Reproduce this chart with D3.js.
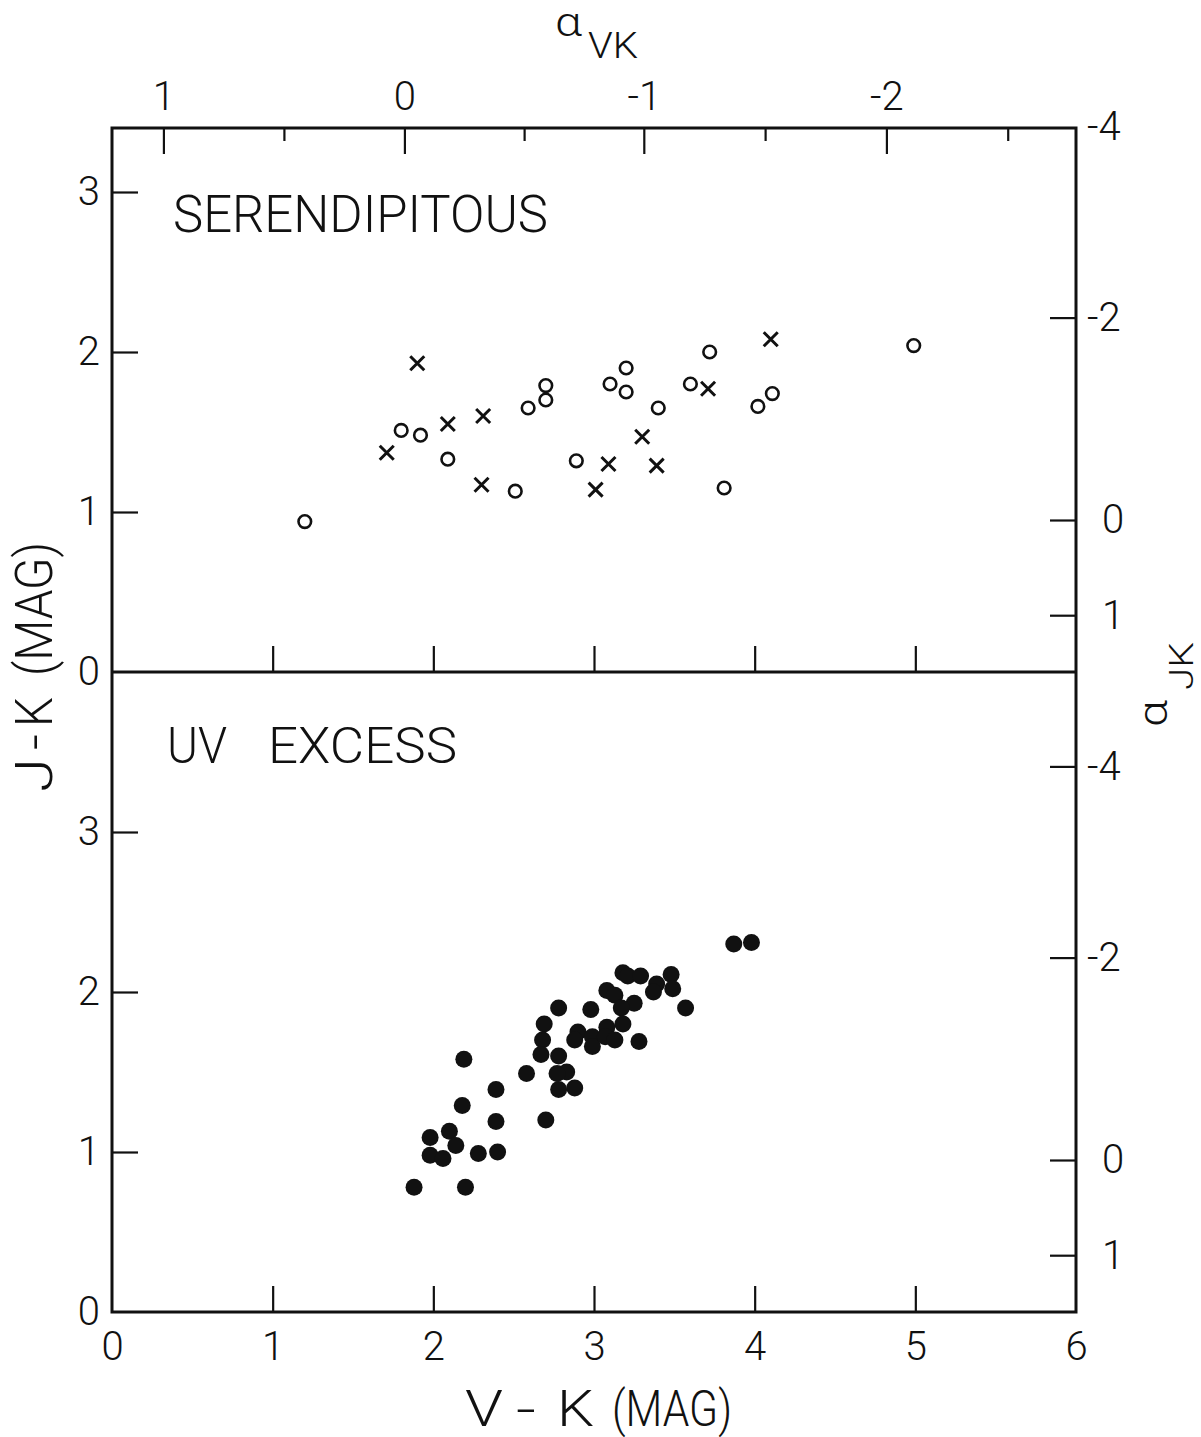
<!DOCTYPE html>
<html><head><meta charset="utf-8">
<script src="https://cdn.jsdelivr.net/npm/d3@7"></script>
<style>
html,body{margin:0;padding:0;background:#fff;}
svg{display:block;background:#fff;}
text{font-family:Roboto,"Open Sans",sans-serif;font-weight:300;fill:#111;}
</style></head><body>
<svg id="chart" width="1201" height="1437"></svg>
<script>
// ---- axis ticks / labels ----
const vkTicks = [1, 2, 3, 4, 5];
const vkLabels = [0, 1, 2, 3, 4, 5, 6];
const jkTicks = [1, 2, 3];
const jkLabels = [0, 1, 2, 3];
const alphaVKMajor = [1, 0, -1, -2];
const alphaVKMajorAtVK = [0.32, 1.82, 3.31, 4.82];   // V-K value under each alpha_VK tick
const alphaVKMinor = [0.5, -0.5, -1.5, -2.5];
const alphaJKTicks = [1, 0, -2, -4];
const alphaJKAtJK = [0.355, 0.95, 2.215, 3.41];      // J-K value beside each alpha_JK tick

// ---- data: [V-K, J-K] ----
const serendipCircles = [
  [1.20,0.94],[1.80,1.51],[1.92,1.48],[2.09,1.33],[2.51,1.13],[2.59,1.65],
  [2.70,1.79],[2.70,1.70],[2.89,1.32],[3.10,1.80],[3.20,1.90],[3.20,1.75],
  [3.40,1.65],[3.72,2.00],[3.60,1.80],[4.02,1.66],[4.11,1.74],[3.81,1.15],[4.99,2.04]
];
const serendipCrosses = [
  [1.90,1.93],[1.71,1.37],[2.09,1.55],[2.31,1.60],[2.30,1.17],[3.01,1.14],
  [3.09,1.30],[3.30,1.47],[3.39,1.29],[4.10,2.08],[3.71,1.77]
];
const uvExcess = [
  [3.87,2.30],[3.98,2.31],[3.18,2.12],[3.21,2.10],[3.29,2.10],[3.48,2.11],
  [3.39,2.05],[3.37,2.00],[3.49,2.02],[3.08,2.01],[3.13,1.98],[3.25,1.93],
  [3.17,1.90],[3.57,1.90],[2.78,1.90],[2.98,1.89],[3.18,1.80],[3.08,1.78],
  [2.69,1.80],[2.90,1.75],[2.88,1.70],[2.99,1.72],[2.99,1.66],[3.07,1.72],
  [3.13,1.70],[3.28,1.69],[2.68,1.70],[2.67,1.61],[2.78,1.60],[2.83,1.50],
  [2.77,1.49],[2.58,1.49],[2.78,1.39],[2.88,1.40],[2.19,1.58],[2.39,1.39],
  [2.18,1.29],[2.39,1.19],[2.70,1.20],[2.10,1.13],[1.98,1.09],[2.14,1.04],
  [1.98,0.98],[2.06,0.96],[2.28,0.99],[2.40,1.00],[1.88,0.78],[2.20,0.78]
];

// ---- layout ----
const L = 112, R = 1076, T = 128, M = 672, B = 1312;
const svg = d3.select("#chart");
const x = d3.scaleLinear().domain([0, 6]).range([L, R]);
const yTop = d3.scaleLinear().domain([0, 3.4]).range([M, T]);
const yBot = d3.scaleLinear().domain([0, 4]).range([B, M]);
const aVK = d3.scaleLinear().domain(alphaVKMajor).range(alphaVKMajorAtVK.map(x));
const aJKTop = d3.scaleLinear().domain(alphaJKTicks).range(alphaJKAtJK.map(yTop));
const aJKBot = d3.scaleLinear().domain(alphaJKTicks).range(alphaJKAtJK.map(yBot));

const TICK = 26, MINOR = 13, LBL = 40;

function style(g) {
  g.select(".domain").remove();
  g.selectAll(".tick line").attr("stroke", "#111").attr("stroke-width", 2.2);
  g.attr("font-family", null).attr("font-size", null);
  g.selectAll("text").style("font-size", LBL + "px").attr("fill", "#111");
}
const fmt = d => String(d);

// bottom x axis (bottom panel)
svg.append("g").attr("transform", `translate(0,${B})`)
  .call(d3.axisBottom(x).tickValues(vkLabels).tickFormat(fmt).tickSize(-TICK).tickSizeOuter(0).tickPadding(20))
  .call(style)
  .call(g => g.selectAll(".tick").filter(d => d === 0 || d === 6).select("line").remove());
// x ticks at divider (top panel)
svg.append("g").attr("transform", `translate(0,${M})`)
  .call(d3.axisBottom(x).tickValues(vkTicks).tickFormat("").tickSize(-TICK).tickSizeOuter(0))
  .call(style);

// left axes
[yTop, yBot].forEach(sc => {
  svg.append("g").attr("transform", `translate(${L},0)`)
    .call(d3.axisLeft(sc).tickValues(jkLabels).tickFormat(fmt).tickSize(-TICK).tickSizeOuter(0).tickPadding(12))
    .call(style)
    .call(g => g.selectAll(".tick").filter(d => d === 0).select("line").remove());
});

// top alpha_VK axis
svg.append("g").attr("transform", `translate(0,${T})`)
  .call(d3.axisTop(aVK).tickValues(alphaVKMajor).tickFormat(fmt).tickSize(-TICK).tickSizeOuter(0).tickPadding(18))
  .call(style);
svg.append("g").attr("transform", `translate(0,${T})`)
  .call(d3.axisTop(aVK).tickValues(alphaVKMinor).tickFormat("").tickSize(-MINOR).tickSizeOuter(0))
  .call(style);

// right alpha_JK axes
[aJKTop, aJKBot].forEach(scale => {
  svg.append("g").attr("transform", `translate(${R},0)`)
    .call(d3.axisRight(scale).tickValues(alphaJKTicks).tickFormat(fmt).tickSize(-TICK).tickSizeOuter(0))
    .call(style)
    .call(g => g.selectAll(".tick").filter(d => d === -4 && scale === aJKTop).select("line").remove())
    .call(g => g.selectAll(".tick text").attr("x", d => d < 0 ? 11 : 26));
});

// frame
svg.append("rect").attr("x", L).attr("y", T).attr("width", R - L).attr("height", B - T)
  .attr("fill", "none").attr("stroke", "#111").attr("stroke-width", 3);
svg.append("line").attr("x1", L).attr("x2", R).attr("y1", M).attr("y2", M)
  .attr("stroke", "#111").attr("stroke-width", 3);

// panel labels
svg.append("text").attr("x", 173).attr("y", 232).style("font-size", "51px")
  .attr("textLength", 375).attr("lengthAdjust", "spacingAndGlyphs").text("SERENDIPITOUS");
svg.append("text").attr("x", 167).attr("y", 763).style("font-size", "50px")
  .attr("textLength", 60).attr("lengthAdjust", "spacingAndGlyphs").text("UV");
svg.append("text").attr("x", 268).attr("y", 763).style("font-size", "50px")
  .attr("textLength", 189).attr("lengthAdjust", "spacingAndGlyphs").text("EXCESS");

// bottom axis title pieces
[["V", 465, 38], ["-", 516, 20], ["K", 557, 37], ["(MAG)", 612, 120]].forEach(([s, px, w]) => {
  svg.append("text").attr("x", px).attr("y", 1426).style("font-size", "50px")
    .attr("textLength", w).attr("lengthAdjust", "spacingAndGlyphs").text(s);
});
// left axis title pieces (rotated, reading upward)
[["J", 792, 34], ["-", 750, 16], ["K", 727, 30], ["(MAG)", 676, 134]].forEach(([s, py, w]) => {
  svg.append("text").attr("transform", `translate(52,${py}) rotate(-90)`).style("font-size", "52px")
    .attr("textLength", w).attr("lengthAdjust", "spacingAndGlyphs").text(s);
});

// alpha titles
svg.append("text").attr("x", 555).attr("y", 36).style("font-size", "40px")
  .attr("textLength", 27).attr("lengthAdjust", "spacingAndGlyphs").text("α");
svg.append("text").attr("x", 588).attr("y", 58).style("font-size", "36px")
  .attr("textLength", 50).attr("lengthAdjust", "spacingAndGlyphs").text("VK");
svg.append("text").attr("transform", "translate(1167,727) rotate(-90)").style("font-size", "40px")
  .attr("textLength", 27).attr("lengthAdjust", "spacingAndGlyphs").text("α");
svg.append("text").attr("transform", "translate(1193,690) rotate(-90)").style("font-size", "34px")
  .attr("textLength", 48).attr("lengthAdjust", "spacingAndGlyphs").text("JK");

// marks
svg.append("g").selectAll("circle").data(serendipCircles).join("circle")
  .attr("cx", d => x(d[0])).attr("cy", d => yTop(d[1])).attr("r", 6.3)
  .attr("fill", "none").attr("stroke", "#111").attr("stroke-width", 2.6);
const cs = 7;
svg.append("g").selectAll("path").data(serendipCrosses).join("path")
  .attr("d", d => {
    const cx = x(d[0]), cy = yTop(d[1]);
    return `M${cx-cs},${cy-cs}L${cx+cs},${cy+cs}M${cx-cs},${cy+cs}L${cx+cs},${cy-cs}`;
  })
  .attr("stroke", "#111").attr("stroke-width", 3).attr("fill", "none");
svg.append("g").selectAll("circle").data(uvExcess).join("circle")
  .attr("cx", d => x(d[0])).attr("cy", d => yBot(d[1])).attr("r", 8.5).attr("fill", "#111");
</script>
</body></html>
